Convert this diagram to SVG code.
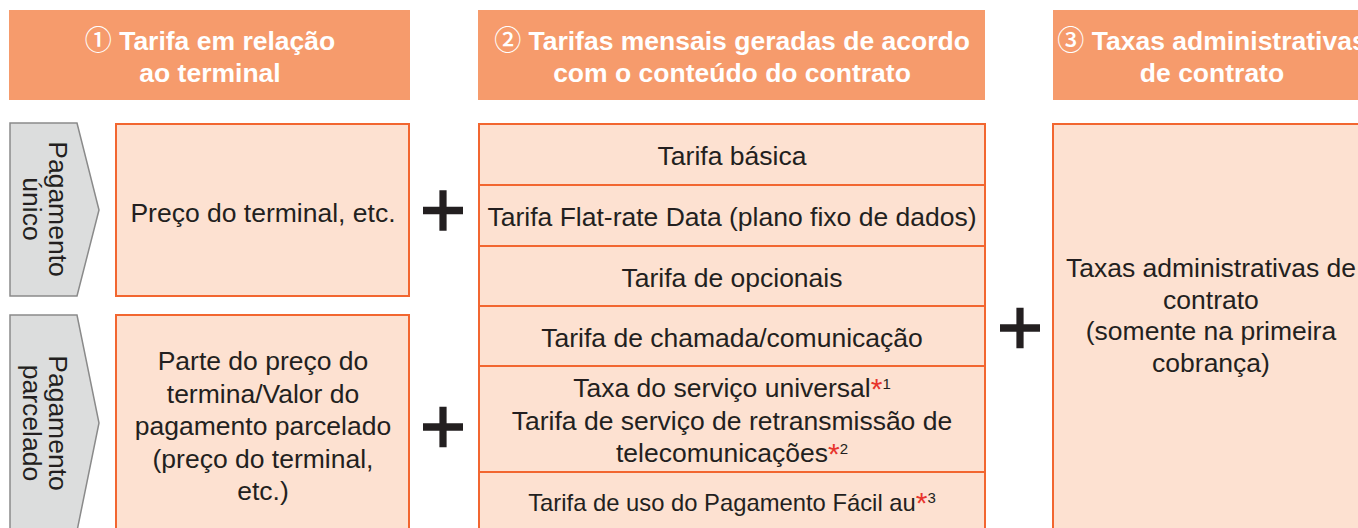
<svg xmlns="http://www.w3.org/2000/svg" width="1358" height="528" viewBox="0 0 1358 528">
<style>
.hdr{fill:#f69b6c}
.ht{font-family:"Liberation Sans",Arial,"DejaVu Sans","Noto Sans CJK JP",sans-serif;font-weight:bold;font-size:26.5px;fill:#ffffff;text-anchor:middle}
.num{font-family:"Noto Sans CJK JP","DejaVu Sans",sans-serif;font-weight:500;font-size:27px}
.box{fill:#fde1d1;stroke:#f26630;stroke-width:2}
.t{font-family:"Liberation Sans",Arial,sans-serif;font-size:26.5px;fill:#231f20;text-anchor:middle}
.ts{font-size:23.8px}
.ast{fill:#e8352d;font-size:30px}
.sup{font-size:15px}
.arr{fill:#dcdddd;stroke:#8a8a8a;stroke-width:1.5}
.plus{fill:#231f20}
</style>
<defs>
<path id="plus" d="M-20,-3.8H-3.6V-20.3H3.6V-3.8H20V3.8H3.6V20.3H-3.6V3.8H-20Z"/>
</defs>

<g id="header1">
<rect class="hdr" x="9" y="10" width="401" height="90"/>
<text class="ht" x="210" y="50"><tspan class="num">①</tspan> Tarifa em relação</text>
<text class="ht" x="210" y="82">ao terminal</text>
</g>
<g id="header2">
<rect class="hdr" x="478" y="10" width="507" height="90"/>
<text class="ht" x="732" y="50"><tspan class="num">②</tspan> Tarifas mensais geradas de acordo</text>
<text class="ht" x="732" y="82">com o conteúdo do contrato</text>
</g>
<g id="header3">
<rect class="hdr" x="1053" y="10" width="320" height="90"/>
<text class="ht" x="1212" y="50"><tspan class="num">③</tspan> Taxas administrativas</text>
<text class="ht" x="1212" y="82">de contrato</text>
</g>

<g id="arrow-unico">
<path class="arr" d="M10,123H77L99,210L77,296H10Z"/>
<text class="t" transform="translate(49,209) rotate(90)">Pagamento</text>
<text class="t" transform="translate(23,209) rotate(90)">único</text>
</g>
<g id="arrow-parcelado">
<path class="arr" d="M10,315H77L99,423L77,531H10Z"/>
<text class="t" transform="translate(49,423) rotate(90)">Pagamento</text>
<text class="t" transform="translate(23,423) rotate(90)">parcelado</text>
</g>

<g id="box-preco">
<rect class="box" x="116" y="124" width="293" height="172"/>
<text class="t" x="263" y="222">Preço do terminal, etc.</text>
</g>
<g id="box-parcela">
<rect class="box" x="116" y="315" width="293" height="220"/>
<text class="t" x="263" y="370">Parte do preço do</text>
<text class="t" x="263" y="402.5">termina/Valor do</text>
<text class="t" x="263" y="435">pagamento parcelado</text>
<text class="t" x="263" y="467.5">(preço do terminal,</text>
<text class="t" x="263" y="500">etc.)</text>
</g>

<g id="row-basica">
<rect class="box" x="479" y="124" width="506" height="61"/>
<text class="t" x="732" y="165">Tarifa básica</text>
</g>
<g id="row-flat">
<rect class="box" x="479" y="185" width="506" height="61"/>
<text class="t" x="732" y="226">Tarifa Flat-rate Data (plano fixo de dados)</text>
</g>
<g id="row-opcionais">
<rect class="box" x="479" y="246" width="506" height="60"/>
<text class="t" x="732" y="287">Tarifa de opcionais</text>
</g>
<g id="row-chamada">
<rect class="box" x="479" y="306" width="506" height="60"/>
<text class="t" x="732" y="347">Tarifa de chamada/comunicação</text>
</g>
<g id="row-universal">
<rect class="box" x="479" y="366" width="506" height="106"/>
<text class="t" x="732" y="397">Taxa do serviço universal<tspan class="ast" dy="2">*</tspan><tspan class="sup" dy="-10">1</tspan></text>
<text class="t" x="732" y="429.5">Tarifa de serviço de retransmissão de</text>
<text class="t" x="732" y="462">telecomunicações<tspan class="ast" dy="2">*</tspan><tspan class="sup" dy="-10">2</tspan></text>
</g>
<g id="row-facil">
<rect class="box" x="479" y="472" width="506" height="70"/>
<text class="t ts" x="732" y="511">Tarifa de uso do Pagamento Fácil au<tspan class="ast" dy="2">*</tspan><tspan class="sup" dy="-10">3</tspan></text>
</g>

<g id="box-taxas">
<rect class="box" x="1053" y="124" width="320" height="420"/>
<text class="t" x="1211" y="277">Taxas administrativas de</text>
<text class="t" x="1211" y="308.5">contrato</text>
<text class="t" x="1211" y="340">(somente na primeira</text>
<text class="t" x="1211" y="371.5">cobrança)</text>
</g>

<g id="connectors">
<use href="#plus" class="plus" x="443" y="210.5"/>
<use href="#plus" class="plus" x="443" y="427"/>
<use href="#plus" class="plus" x="1020" y="328"/>
</g>
</svg>
